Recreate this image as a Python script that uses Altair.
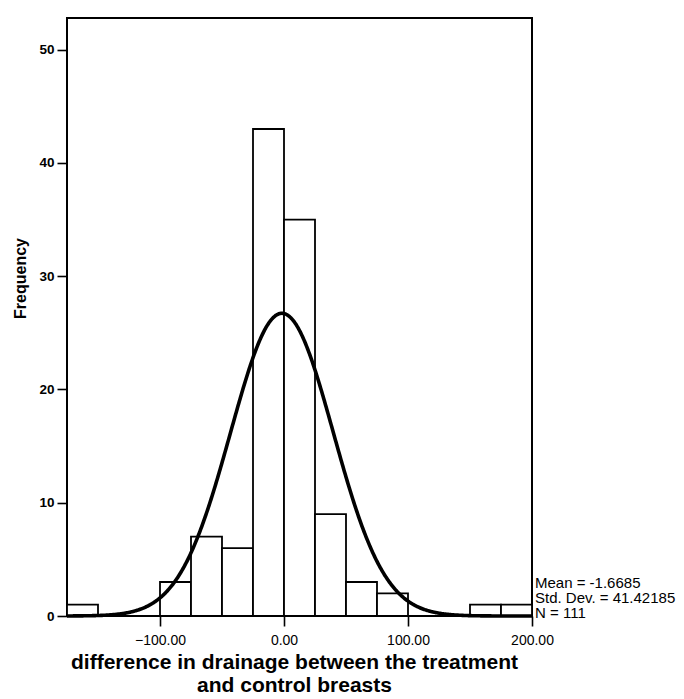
import altair as alt
import pandas as pd

# Histogram bins (width 25) and frequencies
bin_start = [-175, -150, -125, -100, -75, -50, -25, 0, 25, 50, 75, 100, 125, 150, 175]
frequency = [1, 0, 0, 3, 7, 6, 43, 35, 9, 3, 2, 0, 0, 1, 1]
BIN_WIDTH = 25

# Summary statistics shown on the chart
MEAN = -1.6685
SD = 41.42185
N = 111
stats_lines = ["Mean = -1.6685", "Std. Dev. = 41.42185", "N = 111"]

x_ticks = [-100, 0, 100, 200]
y_ticks = [0, 10, 20, 30, 40, 50]
X_DOMAIN = [-175, 200]
Y_DOMAIN = [0, 52.8]

hist = pd.DataFrame({
    "start": bin_start,
    "end": [b + BIN_WIDTH for b in bin_start],
    "count": frequency,
})

FONT = "Liberation Sans"

x_scale = alt.Scale(domain=X_DOMAIN, nice=False, zero=False)
y_scale = alt.Scale(domain=Y_DOMAIN, nice=False)

bars = alt.Chart(hist).mark_bar(
    fill="white", stroke="black", strokeWidth=1.8
).encode(
    x=alt.X("start:Q", scale=x_scale,
            axis=alt.Axis(values=x_ticks, format=".2f",
                          title=["difference in drainage between the treatment",
                                 "and control breasts"])),
    x2="end:Q",
    y=alt.Y("count:Q", scale=y_scale,
            axis=alt.Axis(values=y_ticks, title="Frequency")),
    y2=alt.datum(0),
)

curve = alt.Chart(alt.sequence(-175, 200.5, 0.5, as_="x")).transform_calculate(
    y=f"{N}*{BIN_WIDTH}*exp(-0.5*pow((datum.x-({MEAN}))/{SD},2))/({SD}*sqrt(2*PI))"
).mark_line(color="black", strokeWidth=3.6).encode(
    x=alt.X("x:Q", scale=x_scale),
    y=alt.Y("y:Q", scale=y_scale),
)

stats = alt.Chart(pd.DataFrame({"x": [200], "y": [0]})).mark_text(
    align="left", baseline="alphabetic", dx=3, dy=-28, fontSize=15, font=FONT,
    lineHeight=15, color="black"
).encode(
    x=alt.X("x:Q", scale=x_scale),
    y=alt.Y("y:Q", scale=y_scale),
    text=alt.value(stats_lines),
)

chart = alt.layer(bars, curve, stats).properties(
    width=465, height=598,
    background="white",
    autosize=alt.AutoSizeParams(type="none"),
    padding={"left": 67, "top": 18, "right": 152, "bottom": 83},
).configure_view(
    stroke="black", strokeWidth=2
).configure_axis(
    domain=False, grid=False,
    tickColor="black", tickWidth=1.6, tickSize=10,
    labelFont=FONT, labelColor="black",
    titleFont=FONT, titleFontWeight="bold", titleColor="black",
).configure_axisY(
    labelPadding=3, labelFontSize=13.5, labelFontWeight="bold",
    titleFontSize=16, titleX=-47, titleY=260,
    titleAngle=-90, titleAlign="center", titleBaseline="middle",
).configure_axisX(
    labelPadding=7, labelFontSize=14, labelFontWeight="normal",
    labelFlush=False,
    titleFontSize=21, titlePadding=4, titleLineHeight=23,
    titleX=227, titleAlign="center",
)

chart.save("out.html", embed_options={"renderer": "svg", "actions": False})
